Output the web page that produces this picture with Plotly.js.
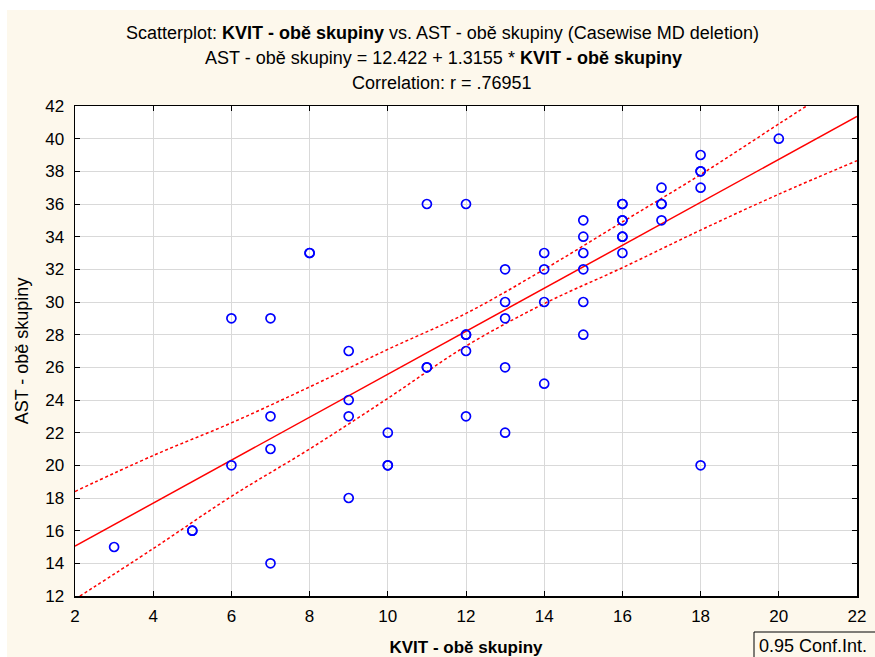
<!DOCTYPE html>
<html>
<head>
<meta charset="utf-8">
<script src="https://cdn.plot.ly/plotly-3.0.1.min.js"></script>
<style>
  html, body { margin: 0; padding: 0; background: #ffffff; }
  #chart { width: 875px; height: 657px; }
</style>
</head>
<body>
<div id="chart"></div>
<script>
// ---- Data ----
const kvit = [3, 5, 5, 6, 6, 7, 7, 7, 7, 8, 8, 9, 9, 9, 9, 10, 10, 10,
              11, 11, 11, 12, 12, 12, 12, 12, 13, 13, 13, 13, 13,
              14, 14, 14, 14, 15, 15, 15, 15, 15, 15,
              16, 16, 16, 16, 16, 16, 16, 17, 17, 17, 17, 18, 18, 18, 18, 18, 20];
const ast  = [15, 16, 16, 20, 29, 29, 23, 21, 14, 33, 33, 27, 24, 23, 18, 22, 20, 20,
              36, 26, 26, 36, 28, 28, 27, 23, 32, 30, 29, 26, 22,
              33, 32, 30, 25, 35, 34, 33, 32, 30, 28,
              36, 36, 35, 35, 34, 34, 33, 37, 36, 36, 35, 39, 38, 38, 37, 20, 40];

// Regression equation shown in the title
const intercept = 12.422;
const slope = 1.3155;
const fitX = [2, 22];

// 0.95 confidence band at the x gridlines
const bandX = [2, 4, 6, 8, 10, 12, 14, 16, 18, 20, 22];
const bandUpper = [18.4, 20.6, 22.6, 24.8, 27.1, 29.3, 32.0, 34.9, 37.8, 40.9, 44.0];
const bandLower = [11.8, 14.9, 18.1, 21.0, 24.1, 27.3, 29.9, 32.1, 34.4, 36.6, 38.65];

// Tick values
const xTicks = [2, 4, 6, 8, 10, 12, 14, 16, 18, 20, 22];
const yTicks = [12, 14, 16, 18, 20, 22, 24, 26, 28, 30, 32, 34, 36, 38, 40, 42];

// ---- Figure ----
const FONT = 'Liberation Sans, Arial, Helvetica, sans-serif';
const CREAM = '#fdf8ec';
const L = 75, R = 857, T = 106, B = 596, W = 875, H = 657;
const px = p => (p - L) / (R - L);
const py = p => (B - p) / (B - T);

const traces = [
  {
    x: bandX, y: bandUpper, type: 'scatter', mode: 'lines',
    line: { color: '#ff0000', width: 1.5, dash: '3px,2.5px', shape: 'spline', smoothing: 1 },
    hoverinfo: 'skip'
  },
  {
    x: bandX, y: bandLower, type: 'scatter', mode: 'lines',
    line: { color: '#ff0000', width: 1.5, dash: '3px,2.5px', shape: 'spline', smoothing: 1 },
    hoverinfo: 'skip'
  },
  {
    x: fitX, y: fitX.map(v => intercept + slope * v), type: 'scatter', mode: 'lines',
    line: { color: '#ff0000', width: 1.5 },
    hoverinfo: 'skip'
  },
  {
    x: kvit, y: ast, type: 'scatter', mode: 'markers',
    marker: { symbol: 'circle-open', size: 9, color: '#0000ff', line: { width: 1.7, color: '#0000ff' } }
  }
];

const axisCommon = {
  showline: true, linecolor: '#000000', linewidth: 1.5, mirror: 'ticks',
  ticks: 'inside', ticklen: 5, tickwidth: 1, tickcolor: '#000000',
  showgrid: true, gridcolor: '#d9d9d9', gridwidth: 1,
  zeroline: false, tickfont: { family: FONT, size: 17, color: '#000000' }
};

const layout = {
  width: W, height: H,
  paper_bgcolor: CREAM, plot_bgcolor: '#ffffff',
  margin: { l: L, r: W - R, t: T, b: H - B, pad: 0 },
  showlegend: false, hovermode: false,
  font: { family: FONT, size: 17, color: '#000000' },
  xaxis: Object.assign({}, axisCommon, {
    range: [2, 22], tickvals: xTicks, ticktext: xTicks.map(String),
    ticklabelstandoff: 4,
    title: { text: '<b>KVIT - obě skupiny</b>', font: { family: FONT, size: 17, color: '#000000' }, standoff: 16 }
  }),
  yaxis: Object.assign({}, axisCommon, {
    range: [12, 42], tickvals: yTicks, ticktext: yTicks.map(String),
    ticklabelstandoff: 6,
    title: { text: 'AST - obě skupiny', font: { family: FONT, size: 18, color: '#000000' }, standoff: 12 }
  }),
  title: { text: '' },
  annotations: [
    { text: 'Scatterplot: <b>KVIT - obě skupiny</b> vs. AST - obě skupiny (Casewise MD deletion)',
      xref: 'paper', yref: 'paper', x: px(442), y: py(33), xanchor: 'center', yanchor: 'middle',
      showarrow: false, font: { family: FONT, size: 18, color: '#000000' } },
    { text: 'AST - obě skupiny = 12.422 + 1.3155 * <b>KVIT - obě skupiny</b>',
      xref: 'paper', yref: 'paper', x: px(443), y: py(58), xanchor: 'center', yanchor: 'middle',
      showarrow: false, font: { family: FONT, size: 18, color: '#000000' } },
    { text: 'Correlation: r = .76951',
      xref: 'paper', yref: 'paper', x: px(442), y: py(83), xanchor: 'center', yanchor: 'middle',
      showarrow: false, font: { family: FONT, size: 18, color: '#000000' } },
    { text: '0.95 Conf.Int.',
      xref: 'paper', yref: 'paper', x: px(757), y: py(646), xanchor: 'left', yanchor: 'middle',
      showarrow: false, font: { family: FONT, size: 18, color: '#000000' } }
  ],
  shapes: [
    { type: 'rect', xref: 'paper', yref: 'paper', layer: 'below',
      x0: px(-5), x1: px(W + 5), y0: py(10), y1: py(-5),
      fillcolor: '#ffffff', line: { width: 0 } },
    { type: 'rect', xref: 'paper', yref: 'paper', layer: 'below',
      x0: px(-5), x1: px(7), y0: py(H + 5), y1: py(-5),
      fillcolor: '#ffffff', line: { width: 0 } },
    { type: 'rect', xref: 'paper', yref: 'paper', layer: 'above',
      x0: px(754), x1: px(W + 10), y0: py(H + 10), y1: py(632),
      fillcolor: 'rgba(0,0,0,0)', line: { color: '#000000', width: 1 } }
  ]
};

Plotly.newPlot('chart', traces, layout, { displayModeBar: false, staticPlot: true });
</script>
</body>
</html>
